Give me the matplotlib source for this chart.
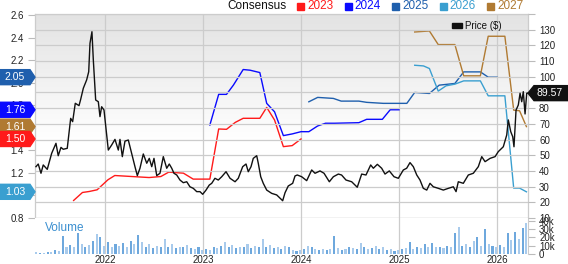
import numpy as np
import matplotlib
matplotlib.use('Agg')
import matplotlib.pyplot as plt
from matplotlib.patches import Polygon, Rectangle
from matplotlib.transforms import IdentityTransform

plt.rcParams['font.family'] = ['Liberation Sans', 'DejaVu Sans']

# price (decimal year, $)
price_t = [2021.296, 2021.319, 2021.347, 2021.370, 2021.411, 2021.456, 2021.500, 2021.523, 2021.551,
           2021.574, 2021.615, 2021.650, 2021.670, 2021.697, 2021.735, 2021.752, 2021.779, 2021.813,
           2021.834, 2021.847, 2021.867, 2021.881, 2021.905, 2021.932, 2021.949, 2021.966, 2021.990,
           2022.034, 2022.068, 2022.102, 2022.136, 2022.153, 2022.177, 2022.204, 2022.238, 2022.272,
           2022.306, 2022.330, 2022.357, 2022.391, 2022.426, 2022.452, 2022.477, 2022.500, 2022.528,
           2022.561, 2022.595, 2022.630, 2022.656, 2022.681, 2022.704, 2022.732, 2022.765, 2022.799,
           2022.834, 2022.867, 2022.901, 2022.936, 2022.969, 2022.997, 2023.031, 2023.064, 2023.089,
           2023.122, 2023.156, 2023.191, 2023.235, 2023.276, 2023.327, 2023.360, 2023.405, 2023.439,
           2023.462, 2023.490, 2023.513, 2023.548, 2023.564, 2023.589, 2023.615, 2023.650, 2023.701,
           2023.752, 2023.813, 2023.837, 2023.870, 2023.915, 2023.939, 2023.962, 2024.007, 2024.058,
           2024.109, 2024.143, 2024.194, 2024.235, 2024.289, 2024.330, 2024.381, 2024.414, 2024.459,
           2024.517, 2024.574, 2024.619, 2024.663, 2024.711, 2024.738, 2024.779, 2024.823, 2024.857,
           2024.901, 2024.949, 2024.993, 2025.044, 2025.078, 2025.112, 2025.146, 2025.181, 2025.214,
           2025.248, 2025.283, 2025.316, 2025.350, 2025.401, 2025.452, 2025.503, 2025.554, 2025.582,
           2025.605, 2025.656, 2025.707, 2025.758, 2025.809, 2025.844, 2025.878, 2025.929, 2025.980,
           2026.013, 2026.064, 2026.099, 2026.115, 2026.140, 2026.160, 2026.173, 2026.194, 2026.217,
           2026.235, 2026.252, 2026.268, 2026.286, 2026.303, 2026.316]
price = [42.7, 44.4, 38.5, 43.8, 41.0, 51.2, 57.6, 49.7, 55.0,
         53.8, 54.4, 73.5, 71.4, 83.1, 81.6, 85.6, 92.7, 98.0,
         103.2, 121.3, 128.7, 110.7, 85.2, 84.1, 74.6, 80.9, 78.8,
         53.3, 56.5, 60.1, 53.3, 60.1, 49.1, 59.0, 59.7, 51.2,
         42.7, 37.0, 41.7, 50.8, 44.9, 48.0, 42.7, 48.0, 37.0,
         38.5, 49.1, 41.7, 44.4, 41.7, 38.5, 37.4, 34.2, 32.5,
         33.1, 29.9, 28.9, 26.8, 26.8, 25.1, 27.8, 31.0, 32.1,
         35.3, 34.2, 36.3, 39.5, 35.3, 33.1, 35.3, 42.7, 44.4,
         39.5, 42.7, 48.0, 49.7, 44.9, 36.3, 32.1, 27.8, 25.7,
         24.7, 21.0, 26.1, 30.4, 32.1, 36.8, 37.4, 36.3, 33.8,
         40.6, 38.5, 40.0, 38.5, 33.1, 36.3, 38.0, 37.4, 34.2,
         33.1, 29.6, 38.0, 37.4, 43.8, 41.7, 44.2, 41.7, 38.0,
         40.0, 36.3, 35.3, 40.6, 41.7, 45.3, 42.7, 37.4, 34.2,
         28.9, 27.8, 32.1, 29.9, 28.9, 27.8, 28.9, 29.9, 26.8,
         33.1, 32.1, 37.4, 38.5, 42.7, 49.1, 45.9, 48.0, 49.1,
         52.3, 55.4, 62.9, 72.5, 65.0, 61.8, 55.4, 78.8, 82.0,
         89.5, 84.1, 90.5, 76.3, 89.5, 89.57]

# consensus EPS estimates by fiscal year
eps_2023_t = [2021.68, 2021.77, 2021.84, 2021.92, 2022.03, 2022.10, 2022.45, 2022.57, 2022.65, 2022.80,
              2022.90, 2023.07, 2023.16, 2023.24, 2023.33, 2023.41, 2023.58, 2023.65, 2023.73, 2023.82,
              2023.91, 2024.00]
eps_2023 = [0.953, 1.024, 1.033, 1.048, 1.137, 1.175, 1.157, 1.166, 1.205, 1.196,
            1.143, 1.143, 1.589, 1.586, 1.648, 1.684, 1.684, 1.781, 1.669, 1.432,
            1.441, 1.50]
eps_2024_t = [2023.07, 2023.16, 2023.24, 2023.31, 2023.41, 2023.48, 2023.58, 2023.65, 2023.73, 2023.82,
              2023.91, 2024.00, 2024.08, 2024.17, 2024.25, 2024.34, 2024.59, 2024.67, 2024.83, 2024.91,
              2025.00]
eps_2024 = [1.624, 1.897, 1.897, 1.979, 2.118, 2.112, 2.091, 1.817, 1.742, 1.530,
            1.545, 1.565, 1.565, 1.616, 1.640, 1.640, 1.645, 1.675, 1.675, 1.76,
            1.76]
eps_2025_t = [2024.08, 2024.17, 2024.33, 2024.41, 2024.59, 2024.67, 2024.84, 2025.08, 2025.16, 2025.31,
              2025.41, 2025.57, 2025.66, 2025.83, 2025.91, 2026.00]
eps_2025 = [1.831, 1.870, 1.861, 1.837, 1.837, 1.826, 1.817, 1.817, 1.914, 1.905,
            1.979, 1.994, 2.097, 2.097, 2.05, 2.05]
eps_2026_t = [2025.16, 2025.25, 2025.31, 2025.40, 2025.48, 2025.57, 2025.66, 2025.83, 2025.91, 2026.08,
              2026.17, 2026.23, 2026.30]
eps_2026 = [2.156, 2.150, 2.127, 1.926, 1.973, 1.988, 2.017, 2.017, 1.884, 1.884,
            1.063, 1.063, 1.03]
eps_2027_t = [2025.16, 2025.31, 2025.40, 2025.57, 2025.66, 2025.83, 2025.91, 2026.08, 2026.17, 2026.23,
              2026.30]
eps_2027 = [2.452, 2.461, 2.340, 2.340, 2.062, 2.062, 2.414, 2.414, 1.757, 1.751,
            1.61]

# volume, thousands of shares, every two weeks from 2021.30
vol_start = 2021.30
volume = [2, 1.5, 1.5, 2, 3, 5, 4, 22, 9, 11, 8, 25, 12, 9, 11, 16, 24, 20, 10,
          14, 8, 12, 10, 13, 9, 16, 12, 23, 14, 8, 12, 7, 10, 9, 18, 8,
          12, 7, 9, 8, 11, 7, 6, 9, 5, 6, 5, 9, 7, 10, 14, 8, 11, 7,
          9, 8, 12, 7, 10, 9, 18, 8, 11, 7, 9, 6, 10, 8, 5, 4, 5,
          6, 10, 8, 6, 5, 6, 5, 6, 22, 7, 5, 6, 8, 7, 6, 13, 8, 6,
          7, 10, 6, 8, 5, 6, 4, 5, 6, 7, 14, 6, 8, 7, 12, 8, 13,
          8, 9, 7, 10, 8, 25, 33, 10, 12, 9, 16, 21, 10, 30, 12, 10, 8, 11,
          9, 25, 17, 27, 18, 31, 38]

years = [2022, 2023, 2024, 2025, 2026]
last_price = 89.57

series = [('2023', eps_2023_t, eps_2023, '#ff1a1a'),
          ('2024', eps_2024_t, eps_2024, '#0a0aff'),
          ('2025', eps_2025_t, eps_2025, '#1f5fad'),
          ('2026', eps_2026_t, eps_2026, '#3a9fd0'),
          ('2027', eps_2027_t, eps_2027, '#b07a32')]
tag_order = ['2025', '2024', '2027', '2023', '2026']

W, H = 568, 264
fig = plt.figure(figsize=(W / 100, H / 100), dpi=100)
axe = fig.add_axes([35 / W, 1 - 218 / H, 493 / W, 204 / H])
axv = fig.add_axes([35 / W, 1 - 254 / H, 493 / W, 36 / H])
xlim = (2021.286, 2026.316)
tick_kw = dict(length=5, width=0.8, color='#bbbbbb', labelsize=7, pad=3, labelcolor='#222222')

# eps axis (left) with gradient background
grad = np.clip(np.linspace(0, 1, 256).reshape(-1, 1) * 1.6, 0, 1)
axe.imshow(grad, extent=[0, 1, 0, 1], transform=axe.transAxes, aspect='auto',
           cmap=matplotlib.colors.LinearSegmentedColormap.from_list('g', ['#e3e3e3', '#ffffff']),
           origin='upper', zorder=0)
for name, t, v, c in series:
    axe.plot(t, v, color=c, lw=1.0, zorder=2)
axe.set_xlim(*xlim)
axe.set_ylim(0.797, 2.612)
axe.set_yticks(np.round(np.arange(0.8, 2.61, 0.2), 1))
axe.set_yticklabels(['%.1f' % v for v in np.arange(0.8, 2.61, 0.2)])
axe.set_xticks(years)
axe.tick_params(axis='y', **tick_kw)
axe.tick_params(axis='x', length=0, labelbottom=False)
axe.grid(True, axis='x', color='#cccccc', lw=0.9, zorder=1)
axe.set_axisbelow(True)
for s in axe.spines.values():
    s.set_color('#cccccc')
    s.set_linewidth(0.9)

# price axis (right)
ax = axe.twinx()
ax.plot(price_t, price, color='#111111', lw=1.0, zorder=3)
ax.set_xlim(*xlim)
ax.set_ylim(10, 140)
ax.set_yticks(range(10, 150, 10))
ax.set_yticklabels([str(v) for v in range(10, 140, 10)] + [''])
ax.yaxis.tick_right()
axe.yaxis.tick_left()
ax.tick_params(axis='y', **tick_kw)
ax.grid(True, axis='y', color='#cccccc', lw=0.9)
ax.set_axisbelow(True)
for s in ax.spines.values():
    s.set_visible(False)

# price legend inside
ax.text(0.872, 0.942, 'Price ($)', transform=ax.transAxes, fontsize=7, va='center', ha='left', color='#111111')
ax.add_patch(Rectangle((0.845, 0.932), 0.022, 0.022, transform=ax.transAxes, color='#111111', zorder=4))

# volume panel
vt = vol_start + np.arange(len(volume)) / 26
vcol = ['#a9cbec' if i % 2 == 0 else '#6ea8dd' for i in range(len(volume))]
axv.bar(vt, volume, width=0.55 / 26, color=vcol, linewidth=0)
axv.set_xlim(*xlim)
axv.set_ylim(0, 43.6)
axv.set_xticks(years)
axv.set_xticklabels([str(y) for y in years])
axv.yaxis.tick_right()
axv.set_yticks([0, 10, 20, 30, 40])
axv.set_yticklabels(['0', '10k', '20k', '30k', '40k'])
axv.tick_params(axis='y', **tick_kw)
axv.tick_params(axis='x', length=0, labelsize=7, pad=1, labelcolor='#222222')
axv.grid(True, axis='x', color='#cccccc', lw=0.9)
axv.set_axisbelow(True)
for k, s in axv.spines.items():
    s.set_visible(k == 'right')
    s.set_color('#cccccc')
axv.text(0.02, 0.72, 'Volume', transform=axv.transAxes, fontsize=8.5, color='#3b8fd0', va='center')

# top consensus legend
fig.text(286 / W, 1 - 6 / H, 'Consensus', ha='right', va='center', fontsize=8.5, color='#111111')
for i, (name, t, v, c) in enumerate(series):
    x0 = 297 + i * 47.5
    fig.add_artist(Rectangle((x0 / W, 1 - 9.5 / H), 7 / W, 7 / H, transform=fig.transFigure, color=c))
    fig.text((x0 + 10) / W, 1 - 6 / H, name, ha='left', va='center', fontsize=8.5, color=c)

# value tags
fig.canvas.draw()
ident = IdentityTransform()
lookup = {name: (v[-1], c) for name, t, v, c in series}
for name in tag_order:
    val, c = lookup[name]
    yc = axe.transData.transform((xlim[0], val))[1]
    pts = [(0, yc - 7.5), (30, yc - 7.5), (35, yc), (30, yc + 7.5), (0, yc + 7.5)]
    fig.add_artist(Polygon(pts, closed=True, transform=ident, color=c, zorder=5))
    fig.add_artist(matplotlib.text.Text(15, yc, '%.2f' % val, transform=ident, ha='center', va='center',
                                        fontsize=7.5, color='white', zorder=6))
yc = ax.transData.transform((xlim[1], last_price))[1]
pts = [(528, yc), (534, yc - 7.5), (568, yc - 7.5), (568, yc + 7.5), (534, yc + 7.5)]
fig.add_artist(Polygon(pts, closed=True, transform=ident, color='#111111', zorder=5))
fig.add_artist(matplotlib.text.Text(550, yc, '%.2f' % last_price, transform=ident, ha='center', va='center',
                                    fontsize=7.5, color='white', zorder=6))

fig.savefig('out.png', dpi=100)
